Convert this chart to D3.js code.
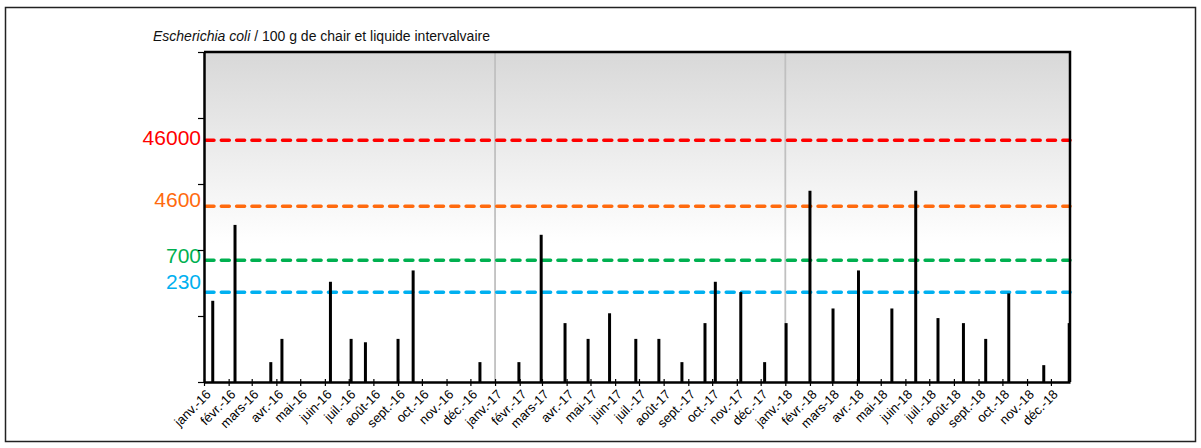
<html>
  <head>
    <meta charset="utf-8">
    <script src="https://cdn.jsdelivr.net/npm/d3@7"></script>
    <style>
      body { margin: 0; background: #fff; }
      text { font-family: "Liberation Sans", Arial, sans-serif; }
    </style>
  </head>
  <body>
    <svg id="chart" width="1201" height="448"></svg>
    <script>
        // sampling dates and E. coli counts (MPN / 100 g)
        var sampleDates = ["2016-01-12","2016-02-09","2016-03-25","2016-04-08","2016-06-08","2016-07-04",
          "2016-07-22","2016-09-01","2016-09-20","2016-12-13","2017-01-31","2017-02-28","2017-03-30",
          "2017-04-28","2017-05-25","2017-06-27","2017-07-26","2017-08-24","2017-09-22","2017-10-05",
          "2017-11-06","2017-12-06","2018-01-02","2018-02-01","2018-03-02","2018-04-03","2018-05-15",
          "2018-06-14","2018-07-12","2018-08-13","2018-09-10","2018-10-09","2018-11-22","2018-12-24"];
        var ecoli = [170, 2400, 20, 45, 330, 45, 40, 45, 490, 20, 20, 1700, 78,
          45, 110, 45, 45, 20, 78, 330, 230, 20, 78, 7900, 130, 490, 130,
          7900, 93, 78, 45, 220, 18, 78];

        var thresholds = [46000, 4600, 700, 230];
        var thresholdColors = ["#ff0000", "#ff6a0e", "#00b050", "#00b0f0"];
        var labelDy = [5, 1, 3, -3];

        var monthNames = ["janv.", "févr.", "mars", "avr.", "mai", "juin", "juil.", "août", "sept.", "oct.", "nov.", "déc."];
        var yearSplits = ["2017-01-01", "2018-01-01"];

        var svg = d3.select("#chart");
        var parse = d3.timeParse("%Y-%m-%d");
        var pLeft = 204, pRight = 1070, pTop = 52, pBottom = 382;

        var x = d3.scaleTime()
          .domain([new Date(2016, 0, 1), new Date(2018, 11, 25)])
          .range([pLeft, pRight]);
        var y = d3.scaleLog().domain([10, 1e6]).range([pBottom, pTop]);

        // outer frame
        svg.append("rect")
          .attr("x", 5.5).attr("y", 7.5).attr("width", 1190).attr("height", 434)
          .attr("fill", "none").attr("stroke", "#222").attr("stroke-width", 1.5);

        // title
        var title = svg.append("text").attr("x", 153).attr("y", 41).attr("font-size", 14).attr("fill", "#111");
        title.append("tspan").attr("font-style", "italic").text("Escherichia coli");
        title.append("tspan").text(" / 100 g de chair et liquide intervalvaire");

        // plot background gradient
        var grad = svg.append("defs").append("linearGradient")
          .attr("id", "bg").attr("x1", 0).attr("y1", 0).attr("x2", 0).attr("y2", 1);
        grad.append("stop").attr("offset", "0%").attr("stop-color", "#d8d8d8");
        grad.append("stop").attr("offset", "58%").attr("stop-color", "#ffffff");
        svg.append("rect")
          .attr("x", pLeft).attr("y", pTop).attr("width", pRight - pLeft).attr("height", pBottom - pTop)
          .attr("fill", "url(#bg)");

        // year separators
        svg.selectAll(".year").data(yearSplits).enter().append("line")
          .attr("x1", function(d) { return x(parse(d)); })
          .attr("x2", function(d) { return x(parse(d)); })
          .attr("y1", pTop).attr("y2", pBottom)
          .attr("stroke", "#c0c0c0").attr("stroke-width", 1.8);

        // threshold lines
        svg.selectAll(".thr").data(thresholds).enter().append("line")
          .attr("x1", pLeft + 2).attr("x2", pRight)
          .attr("y1", function(d) { return y(d); })
          .attr("y2", function(d) { return y(d); })
          .attr("stroke", function(d, i) { return thresholdColors[i]; })
          .attr("stroke-width", 3.5)
          .attr("stroke-dasharray", "8 7.3")
          .attr("stroke-linecap", "round");

        svg.selectAll(".thrlab").data(thresholds).enter().append("text")
          .attr("x", 201)
          .attr("y", function(d, i) { return y(d) + labelDy[i]; })
          .attr("text-anchor", "end")
          .attr("font-size", 21)
          .attr("fill", function(d, i) { return thresholdColors[i]; })
          .text(function(d) { return d; });

        // bars
        svg.selectAll(".bar").data(ecoli).enter().append("line")
          .attr("x1", function(d, i) { return x(parse(sampleDates[i])); })
          .attr("x2", function(d, i) { return x(parse(sampleDates[i])); })
          .attr("y1", pBottom)
          .attr("y2", function(d) { return y(d); })
          .attr("stroke", "#000").attr("stroke-width", 3);

        // y axis (log decades, no labels)
        var yAxis = d3.axisLeft(y).tickValues([10, 100, 1000, 1e4, 1e5, 1e6]).tickFormat("").tickSize(6).tickSizeOuter(0);
        var gy = svg.append("g").attr("transform", "translate(" + pLeft + ",0)").call(yAxis);
        gy.select(".domain").attr("stroke", "#000").attr("stroke-width", 2.5);
        gy.selectAll(".tick line").attr("stroke", "#000").attr("stroke-width", 1.2);

        // x axis, monthly ticks
        var months = d3.timeMonth.range(new Date(2016, 0, 1), new Date(2019, 0, 1));
        var xAxis = d3.axisBottom(x).tickValues(months).tickSize(4).tickSizeOuter(0)
          .tickFormat(function(d) { return monthNames[d.getMonth()] + "-" + String(d.getFullYear()).slice(2); });
        var gx = svg.append("g").attr("transform", "translate(0," + pBottom + ")").call(xAxis);
        gx.select(".domain").attr("stroke", "#000").attr("stroke-width", 2.5);
        gx.selectAll(".tick line").attr("y1", -3).attr("stroke", "#000").attr("stroke-width", 1.2);
        gx.selectAll(".tick text")
          .attr("font-family", "Liberation Sans, Arial, sans-serif")
          .attr("font-size", 13).attr("fill", "#000")
          .attr("text-anchor", "end")
          .attr("transform", "translate(4,10) rotate(-45)")
          .attr("x", 0).attr("y", 0).attr("dy", "0.35em");

        // plot top and right border
        svg.append("path")
          .attr("d", "M" + pLeft + "," + pTop + "H" + pRight + "V" + pBottom)
          .attr("fill", "none").attr("stroke", "#000").attr("stroke-width", 2.5);
    </script>
  </body>
</html>
